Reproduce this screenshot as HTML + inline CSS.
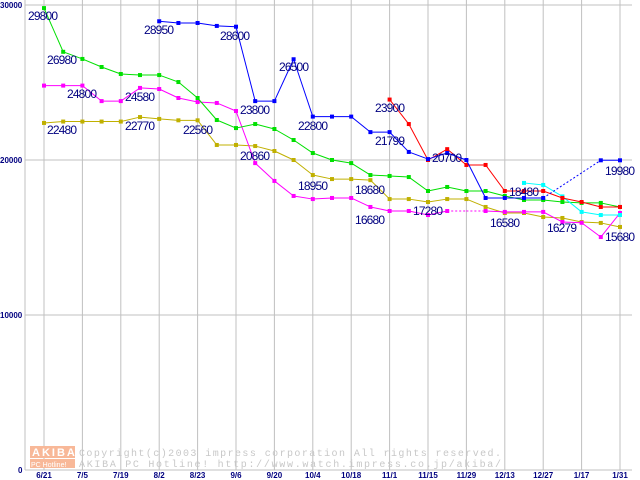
<!DOCTYPE html>
<html><head><meta charset="utf-8"><style>
body{margin:0;background:#fff}
svg{display:block;font-family:"Liberation Sans",sans-serif}
#labels text{font-size:12px;fill:#000080}
</style></head><body>
<svg id="chart" width="640" height="480" xmlns="http://www.w3.org/2000/svg">
<g id="grid"></g>
<g id="wm">
<rect x="30" y="446" width="45" height="12" fill="#f8b898"/>
<text x="32" y="456" font-size="11" fill="#fff" font-weight="bold" letter-spacing="2">AKIBA</text>
<rect x="30" y="459" width="45" height="9" fill="#f8b898"/>
<text x="31" y="467" font-size="7" fill="#fff">PC Hotline!</text>
<text x="79" y="456" font-size="10" fill="#c8c8c8" font-family="Liberation Mono,monospace" textLength="422">Copyright(c)2003 impress corporation All rights reserved.</text>
<text x="79" y="467" font-size="10" fill="#c8c8c8" font-family="Liberation Mono,monospace" textLength="422">AKIBA PC Hotline!  http://www.watch.impress.co.jp/akiba/</text>
</g>
<g id="series"></g>
<g id="labels">
<text x="28" y="20" textLength="30">29800</text>
<text x="47" y="64" textLength="30">26980</text>
<text x="67" y="98" textLength="30">24800</text>
<text x="125" y="101" textLength="30">24580</text>
<text x="47" y="134" textLength="30">22480</text>
<text x="125" y="130" textLength="30">22770</text>
<text x="144" y="34" textLength="30">28950</text>
<text x="220" y="40" textLength="30">28600</text>
<text x="183" y="134" textLength="30">22560</text>
<text x="279" y="71" textLength="30">26500</text>
<text x="240" y="114" textLength="30">23800</text>
<text x="240" y="160" textLength="30">20860</text>
<text x="298" y="130" textLength="30">22800</text>
<text x="298" y="190" textLength="30">18950</text>
<text x="375" y="112" textLength="30">23900</text>
<text x="375" y="145" textLength="30">21799</text>
<text x="355" y="194" textLength="30">18680</text>
<text x="355" y="224" textLength="30">16680</text>
<text x="413" y="215" textLength="30">17280</text>
<text x="432" y="162" textLength="30">20700</text>
<text x="490" y="227" textLength="30">16580</text>
<text x="509" y="196" textLength="30">18480</text>
<text x="547" y="232" textLength="30">16279</text>
<text x="605" y="175" textLength="30">19980</text>
<text x="605" y="241" textLength="30">15680</text>
</g>
</svg>
<script>
const xTicks=["6/21","7/5","7/19","8/2","8/23","9/6","9/20","10/4","10/18","11/1","11/15","11/29","12/13","12/27","1/17","1/31"];
const yTicks=[0,10000,20000,30000];
const green=[29800,26980,26520,26000,25550,25480,25480,25030,24000,22580,22060,22320,22000,21290,20450,20000,19800,19030,18970,18900,18000,18260,18000,18000,17680,17420,17420,17290,17230,17230,16970];
const magenta=[24800,24800,24800,23800,23800,24650,24580,24000,23740,23680,23160,19800,18650,17680,17480,17550,17550,16970,16710,16710,16450,16710,16710,16710,16650,16650,16650,16000,15950,15030,16580];
const olive=[22390,22480,22480,22480,22480,22770,22650,22560,22560,20970,20970,20900,20580,20000,19030,18770,18770,18700,17480,17480,17290,17480,17480,16970,16580,16580,16320,16260,16000,15940,15680];
const blue=[null,null,null,null,null,null,28950,28840,28840,28650,28600,23800,23800,26500,22800,22800,22800,21799,21799,20520,20060,20450,20000,17550,17550,17550,17550,null,null,19980,19980];
const red=[null,null,null,null,null,null,null,null,null,null,null,null,null,null,null,null,null,null,23900,22320,20000,20700,19680,19680,18000,18000,18000,17550,17290,16970,16970];
const cyan=[null,null,null,null,null,null,null,null,null,null,null,null,null,null,null,null,null,null,null,null,null,null,null,null,null,18520,18390,17650,16650,16450,16450];
const NS="http://www.w3.org/2000/svg";
const X=i=>44+i*19.2, Y=v=>470-v*0.0155;
function mk(t,a,p){const e=document.createElementNS(NS,t);for(const k in a)e.setAttribute(k,a[k]);p.appendChild(e);return e;}
const g=document.getElementById('grid');
yTicks.forEach(v=>{if(v>0){const l=mk('line',{x1:25,x2:632,y1:Y(v),y2:Y(v),stroke:'#c0c0c0'},g);

}
const t=mk('text',{x:v==0?18:0,y:Y(v)+3,'font-size':8,'font-weight':'bold',fill:'#000080'},g);t.textContent=v;

});
xTicks.forEach((s,k)=>{const x=X(k*2);const l=mk('line',{x1:x,x2:x,y1:0,y2:470,stroke:'#c0c0c0'},g);


const t=mk('text',{x:x,y:478,'font-size':8,'font-weight':'bold',fill:'#000080','text-anchor':'middle'},g);t.textContent=s;

});
mk('line',{x1:25,x2:25,y1:0,y2:470,stroke:'#c0c0c0'},g);
mk('line',{x1:25,x2:632,y1:470,y2:470,stroke:'#c0c0c0'},g);
const sg=document.getElementById('series');
function draw(d,c,name,dash){let prev=null;
d.forEach((v,i)=>{if(v==null)return;if(prev!=null){const dotted=dash&&dash.includes(i);
const l=mk('line',{x1:X(prev),y1:Y(d[prev]),x2:X(i),y2:Y(v),stroke:c,'stroke-width':1,'stroke-dasharray':dotted?'2,2':'none'},sg);

}prev=i;});
d.forEach((v,i)=>{if(v==null)return;if(dash&&dash.includes(i)&&dash.includes(i+1))return;
const r=mk('rect',{x:X(i)-2,y:Y(v)-2,width:4,height:4,fill:c},sg);

});}
draw(olive,'#c0b000','olive-series');
draw(magenta,'#ff00ff','magenta-series',[22,23]);
draw(green,'#00e000','green-series');
draw(cyan,'#00ffff','cyan-series');
draw(red,'#ff0000','red-series');
draw(blue,'#0000ff','blue-series',[29]);
</script>
</body></html>
